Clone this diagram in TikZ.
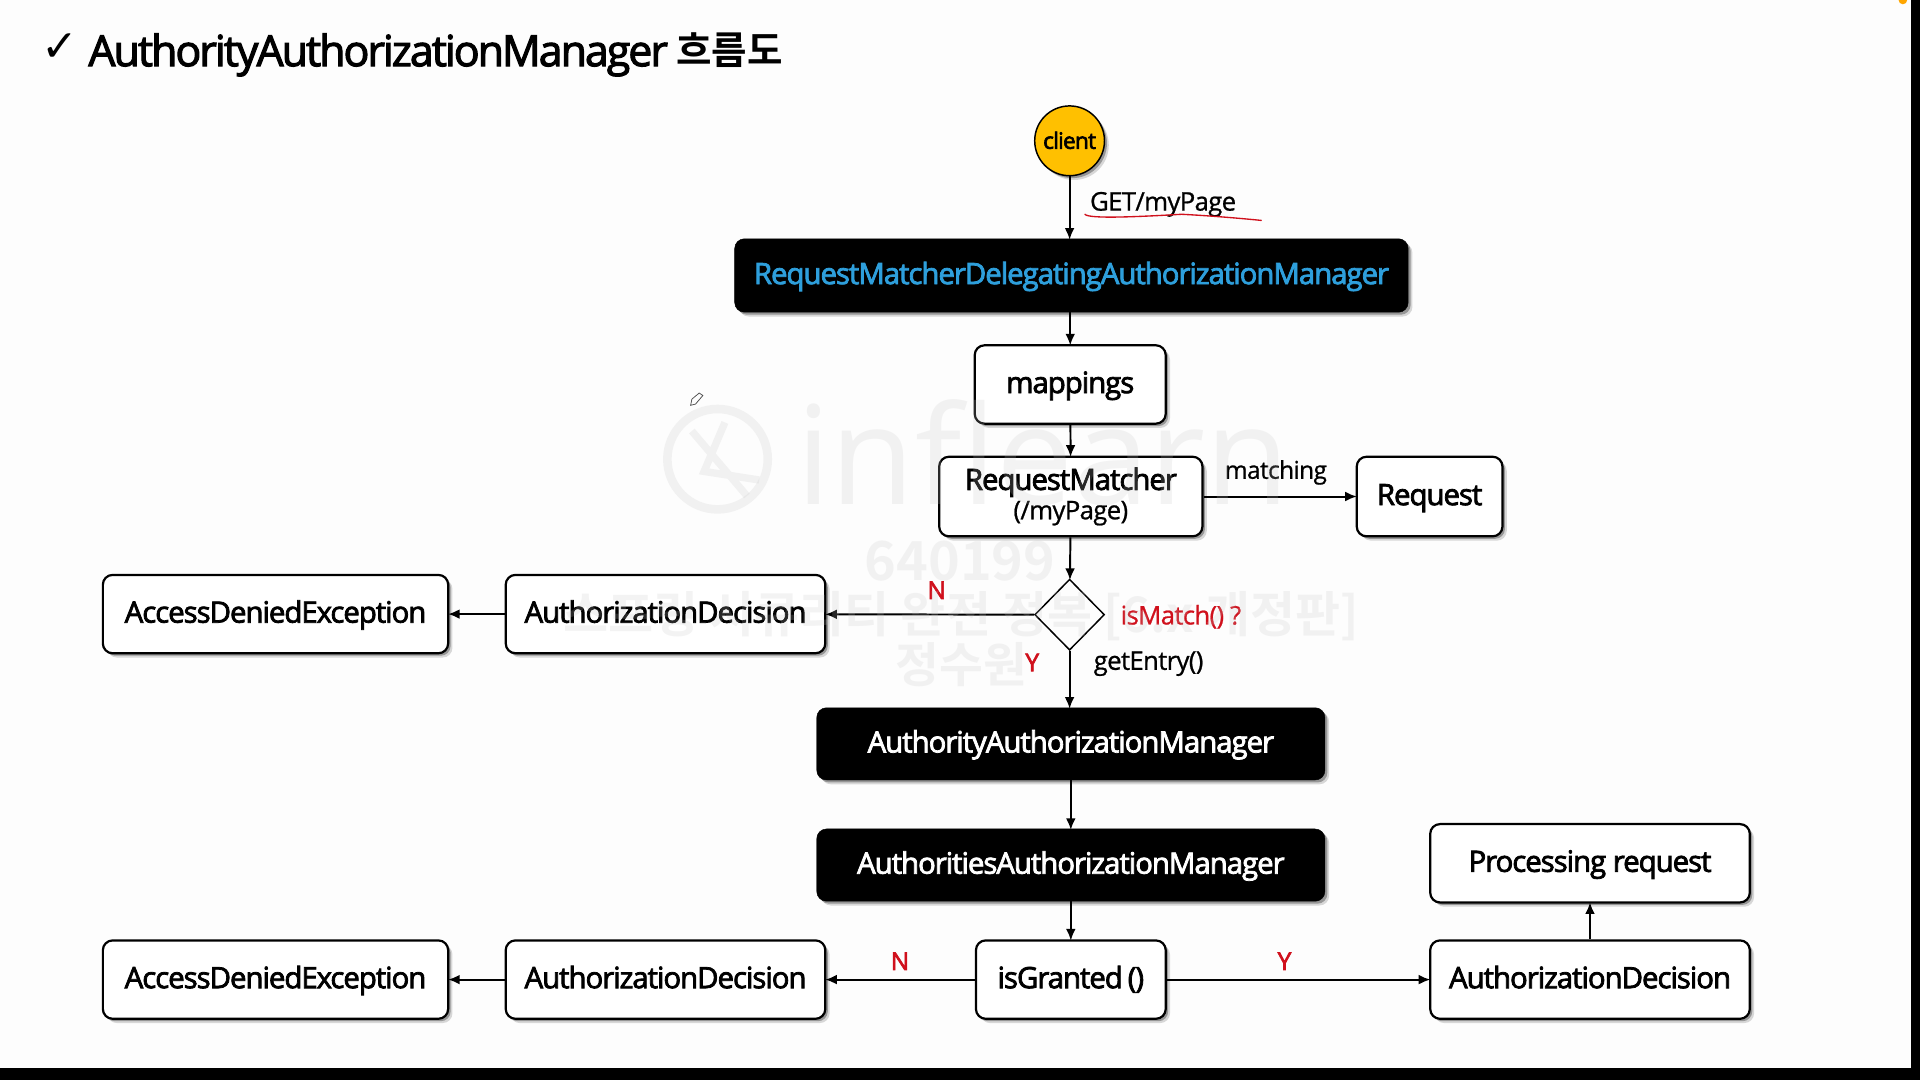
\documentclass[tikz,border=0pt]{standalone}
\usepackage{fontspec}
\usetikzlibrary{arrows.meta,shapes.geometric,shadows,calc}
\setmainfont{Open Sans}[LetterSpace=-3.5,FakeBold=2.6]
\newfontfamily\titlef{Open Sans}[LetterSpace=-4.6,FakeBold=2.6]
\newfontfamily\lightf{Open Sans}[LetterSpace=-2.5,FakeBold=0.8]
\newfontfamily\wmf{Open Sans}
\newfontfamily\krf{Noto Sans CJK KR}[BoldFont={* Bold}]
\newfontfamily\symf{DejaVu Sans}
\definecolor{bgc}{HTML}{FDFDFD}
\definecolor{wm}{HTML}{C4C4C4}
\definecolor{redt}{HTML}{D0101C}
\definecolor{bluet}{HTML}{2E9FDC}
\definecolor{gold}{HTML}{FFC000}
\tikzset{
  x=1pt,y=-1pt,
  sh/.style={general shadow={shadow xshift=3.5pt,shadow yshift=-3.5pt,opacity=.15,fill=black},general shadow={shadow xshift=2pt,shadow yshift=-2pt,opacity=.3,fill=black}},
  box/.style={sh,draw=black,line width=1.8pt,fill=white,rounded corners=8pt,align=center,inner sep=0pt,font=\fontsize{24}{26}\selectfont,text height=18pt,text depth=4pt},
  dark/.style={sh,fill=black,draw=black,rounded corners=8pt,text=white,align=center,inner sep=0pt,font=\fontsize{24}{26}\selectfont,text height=18pt,text depth=4pt},
  conn/.style={draw=black,line width=1.6pt,shorten >=-1pt,-{Latex[length=9.5pt,width=8pt]}},
  lab/.style={inner sep=0pt,font=\lightf\fontsize{21}{23}\selectfont,text height=15pt,text depth=5pt},
  yn/.style={inner sep=0pt,text=redt,font=\fontsize{20}{22}\selectfont},
  wmark/.style={inner sep=0pt,text=wm,font=\krf\bfseries,opacity=.2},
}
\begin{document}
\begin{tikzpicture}
\useasboundingbox (0,0) rectangle (1568,882);
\fill[bgc] (0,0) rectangle (1568,882);
\fill[black] (0,872) rectangle (1568,882);
\fill[black] (1560.5,0) rectangle (1568,882);
\fill[orange!70!yellow] (1554,0) circle (3.5);
% title
\node[inner sep=0pt] (chk) at (49,39) {\symf\fontsize{36}{38}\selectfont ✓};
\node[inner sep=0pt,anchor=base west] (title) at (72,54) {\titlef\fontsize{35}{38}\selectfont AuthorityAuthorizationManager};
\node[inner sep=0pt,anchor=base west] (titlek) at (552,53) {\krf\bfseries\fontsize{31.5}{34}\selectfont 흐름도};
% nodes
\node[circle,sh,draw=black,line width=1.2pt,fill=gold,minimum size=57pt,inner sep=0pt,font=\fontsize{18.5}{20}\selectfont] (client) at (873.5,115) {\raisebox{1pt}{client}};
\node[dark,minimum width=550pt,minimum height=60pt,text=bluet] (rm) at (875,225) {RequestMatcherDelegatingAuthorizationManager};
\node[box,minimum width=156pt,minimum height=64pt] (map) at (874,314) {mappings};
\node[box,minimum width=215pt,minimum height=65pt,text height=,text depth=] (rqm) at (874.5,405.5) {RequestMatcher\\[-2pt]{\lightf\fontsize{21}{23}\selectfont (/myPage)}};
\node[box,minimum width=119pt,minimum height=65pt] (req) at (1167.5,405.5) {Request};
\node[diamond,draw=black,line width=1.2pt,fill=none,minimum width=57pt,minimum height=58pt,inner sep=0pt] (dia) at (873.5,502) {};
\node[box,minimum width=261pt,minimum height=64pt] (ad1) at (543.5,501.5) {AuthorizationDecision};
\node[box,minimum width=282pt,minimum height=64pt] (ex1) at (225,501.5) {AccessDeniedException};
\node[dark,minimum width=415pt,minimum height=59pt] (aam) at (874.5,607.5) {AuthorityAuthorizationManager};
\node[dark,minimum width=415pt,minimum height=59pt] (asam) at (874.5,706.5) {AuthoritiesAuthorizationManager};
\node[box,minimum width=261pt,minimum height=64pt] (proc) at (1298.5,705) {Processing request};
\node[box,minimum width=155pt,minimum height=64pt] (isg) at (874.5,800) {isGranted\,()};
\node[box,minimum width=261pt,minimum height=64pt] (ad3) at (1298.5,800) {AuthorizationDecision};
\node[box,minimum width=261pt,minimum height=64pt] (ad2) at (543.5,800) {AuthorizationDecision};
\node[box,minimum width=282pt,minimum height=64pt] (ex2) at (225,800) {AccessDeniedException};
% connectors
\draw[conn] (client) -- (rm.north -| client);
\draw[conn] (rm.south -| map) -- (map);
\draw[conn] (map) -- (rqm);
\draw[conn] (rqm) -- (req);
\draw[conn] (rqm) -- (dia);
\draw[conn] (dia) -- (ad1);
\draw[conn] (ad1) -- (ex1);
\draw[conn] (dia) -- (aam.north -| dia);
\draw[conn] (aam) -- (asam);
\draw[conn] (asam) -- (isg);
\draw[conn] (isg) -- (ad2);
\draw[conn] (ad2) -- (ex2);
\draw[conn] (isg) -- (ad3);
\draw[conn] (ad3) -- (proc);
% labels
\node[lab,anchor=west] (l1) at (890,167) {GET/myPage};
\node[lab,anchor=center,font=\lightf\fontsize{20}{22}\selectfont] (l2) at (1042,386) {matching};
\node[yn,anchor=center] (n1) at (765,482) {N};
\node[yn,anchor=center] (y1) at (843,541) {Y};
\node[lab,anchor=west,text=redt] (l3) at (915,505) {isMatch() ?};
\node[lab,anchor=west] (l4) at (893,542) {getEntry()};
\node[yn,anchor=center] (n2) at (735,785) {N};
\node[yn,anchor=center] (y2) at (1049,785) {Y};
% hand marks
\draw[redt,line width=1.1pt,line cap=round] (886,175) .. controls (889,179) and (930,177) .. (965,175) .. controls (985,176) and (1010,178) .. (1030,180);
\draw[black!70,line width=.6pt] (564,331) -- (565,326) -- (571,321) -- (574,323) -- (568,330) -- cycle;
% watermark
\begin{scope}[opacity=.2]
\draw[wm,line width=7pt] (586,375) circle (41);
\draw[wm,line width=6pt] (565,352) -- (610,405) (592,345) -- (575,385) -- (620,392);
\end{scope}
\node[wmark,anchor=west] (wm1) at (650,370) {\wmf\mdseries\fontsize{112}{112}\selectfont inflearn};
\node[wmark] (wm2) at (784,458) {\fontsize{44}{46}\selectfont 640199};
\node[wmark] (wm3) at (785,503) {\fontsize{40}{44}\selectfont 스프링 시큐리티 완전 정복 [6.x 개정판]};
\node[wmark] (wm4) at (785,543) {\fontsize{39}{42}\selectfont 정수원};
\end{tikzpicture}
\end{document}
